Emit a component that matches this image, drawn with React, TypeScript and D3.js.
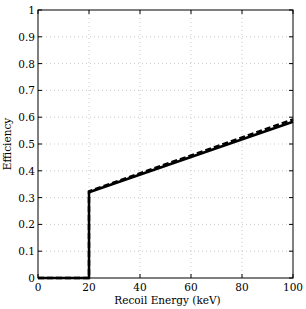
import React, { useEffect, useRef } from 'react';
import * as d3 from 'd3';

const energy = [0, 20, 20, 100];
const solidEff = [0, 0, 0.32, 0.583];
const dashedEff = [0, 0, 0.323, 0.592];
const xTicks = [0, 20, 40, 60, 80, 100];
const yTicks = [0, 0.1, 0.2, 0.3, 0.4, 0.5, 0.6, 0.7, 0.8, 0.9, 1];

const W = 306;
const H = 309;

const App: React.FC = () => {
  const svgRef = useRef<SVGSVGElement>(null);

  useEffect(() => {
    if (!svgRef.current) return;
    const margin = { top: 10, right: 13, bottom: 31, left: 38 };
    const width = W - margin.left - margin.right;
    const height = H - margin.top - margin.bottom;

    const svg = d3.select(svgRef.current);
    svg.selectAll('*').remove();

    const g = svg.append('g')
      .attr('transform', `translate(${margin.left},${margin.top})`)
      .attr('font-family', 'DejaVu Serif')
      .attr('font-size', 10.5);

    const x = d3.scaleLinear().domain([0, 100]).range([0, width]);
    const y = d3.scaleLinear().domain([0, 1]).range([height, 0]);

    // grid
    g.selectAll('line.gx')
      .data(xTicks.slice(1, -1))
      .enter().append('line')
      .attr('x1', d => x(d)).attr('x2', d => x(d))
      .attr('y1', 0).attr('y2', height)
      .attr('stroke', '#bbb').attr('stroke-width', 0.8)
      .attr('stroke-dasharray', '1,3');
    g.selectAll('line.gy')
      .data(yTicks.slice(1, -1))
      .enter().append('line')
      .attr('y1', d => y(d)).attr('y2', d => y(d))
      .attr('x1', 0).attr('x2', width)
      .attr('stroke', '#bbb').attr('stroke-width', 0.8)
      .attr('stroke-dasharray', '1,3');

    // inward ticks
    const tl = 4;
    xTicks.forEach(t => {
      g.append('line').attr('x1', x(t)).attr('x2', x(t)).attr('y1', height).attr('y2', height - tl).attr('stroke', '#000');
      g.append('line').attr('x1', x(t)).attr('x2', x(t)).attr('y1', 0).attr('y2', tl).attr('stroke', '#000');
    });
    yTicks.forEach(t => {
      g.append('line').attr('y1', y(t)).attr('y2', y(t)).attr('x1', 0).attr('x2', tl).attr('stroke', '#000');
      g.append('line').attr('y1', y(t)).attr('y2', y(t)).attr('x1', width).attr('x2', width - tl).attr('stroke', '#000');
    });

    g.selectAll('text.xt')
      .data(xTicks)
      .enter().append('text')
      .attr('x', d => x(d)).attr('y', height + 13)
      .attr('text-anchor', 'middle')
      .text(d => String(d));

    g.selectAll('text.yt')
      .data(yTicks)
      .enter().append('text')
      .attr('x', -3).attr('y', d => y(d) + 4)
      .attr('text-anchor', 'end')
      .text(d => d3.format('~g')(d));

    g.append('text')
      .attr('x', width / 2 + 2).attr('y', height + 26)
      .attr('text-anchor', 'middle')
      .text('Recoil Energy (keV)');

    g.append('text')
      .attr('transform', `translate(${-27},${height / 2}) rotate(-90)`)
      .attr('text-anchor', 'middle')
      .text('Efficiency');

    const line = d3.line<number>()
      .x((_, i) => x(energy[i]))
      .y(d => y(d));

    g.append('path')
      .datum(dashedEff)
      .attr('fill', 'none')
      .attr('stroke', '#000')
      .attr('stroke-width', 2.5)
      .attr('stroke-dasharray', '6,3')
      .attr('d', line);

    g.append('path')
      .datum(solidEff)
      .attr('fill', 'none')
      .attr('stroke', '#000')
      .attr('stroke-width', 2.5)
      .attr('d', line);

    g.append('rect')
      .attr('x', 0).attr('y', 0)
      .attr('width', width).attr('height', height)
      .attr('fill', 'none').attr('stroke', '#000').attr('stroke-width', 1);
  }, []);

  return <svg ref={svgRef} width={W} height={H} style={{ position: 'absolute', left: 0, top: 0, background: '#fff' }} />;
};

export default App;
